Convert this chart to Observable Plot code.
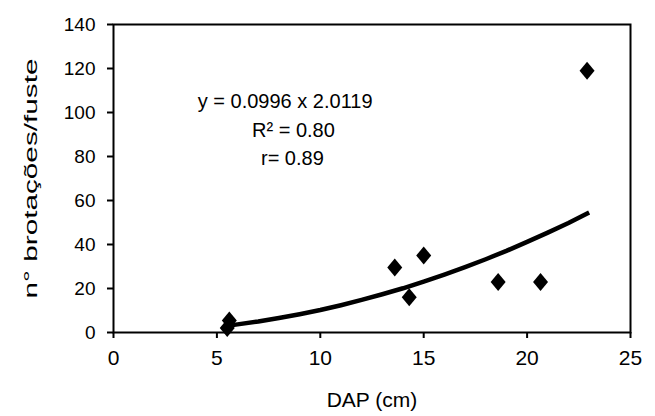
<!DOCTYPE html>
<html>
<head>
<meta charset="utf-8">
<script src="https://cdn.jsdelivr.net/npm/d3@7"></script>
<script src="https://cdn.jsdelivr.net/npm/@observablehq/plot@0.6"></script>
<style>
  html, body { margin: 0; padding: 0; background: #fff; }
  svg { display: block; }
</style>
</head>
<body>
<div id="chart"></div>
<script>
// Observed points (DAP in cm, number of sprouts per stem)
const dap = [5.5, 5.6, 13.6, 14.3, 15.0, 18.6, 20.65, 22.9];
const brotacoes = [2, 5.5, 29.5, 16, 35, 23, 23, 119];

// Fitted trend line
const trendX = [5.5, 6, 7, 8, 9, 10, 11, 12, 13, 14, 15, 16, 17, 18, 19, 20, 21, 22, 23];
const trendY = [3.1, 3.7, 5.0, 6.6, 8.3, 10.2, 12.4, 14.8, 17.4, 20.1, 23.1, 26.3, 29.7, 33.3, 37.1, 41.2, 45.4, 49.8, 54.5];

// Axis ticks
const xTicks = [0, 5, 10, 15, 20, 25];
const yTicks = [0, 20, 40, 60, 80, 100, 120, 140];

// Annotation text
const annotations = ["y = 0.0996 x 2.0119", "R² = 0.80", "r= 0.89"];

const points = dap.map((d, i) => ({x: d, y: brotacoes[i]}));
const trend = trendX.map((d, i) => ({x: d, y: trendY[i]}));

const diamond = {
  draw(context) {
    const w = 7.5, h = 9;
    context.moveTo(0, -h);
    context.lineTo(w, 0);
    context.lineTo(0, h);
    context.lineTo(-w, 0);
    context.closePath();
  }
};

const font = "'Liberation Sans', Arial, sans-serif";

const chart = Plot.plot({
  width: 655,
  height: 416,
  marginLeft: 113,
  marginRight: 25,
  marginTop: 24,
  marginBottom: 84,
  style: {fontFamily: font, fontSize: "21px", color: "#000", background: "#fff"},
  x: {domain: [0, 25]},
  y: {domain: [0, 140]},
  marks: [
    Plot.frame({stroke: "#000", strokeWidth: 2}),
    Plot.axisX({ticks: xTicks, tickSize: 6, tickPadding: 12, strokeWidth: 2, label: "DAP (cm)", labelAnchor: "center", labelArrow: "none", labelOffset: 74, fontSize: 21}),
    Plot.axisY({ticks: yTicks, tickSize: 6, tickPadding: 12, strokeWidth: 2, label: "n° brotações/fuste", labelAnchor: "center", labelArrow: "none", labelOffset: 90, fontSize: 19}),
    Plot.line(trend, {x: "x", y: "y", stroke: "#000", strokeWidth: 4.5, strokeLinejoin: "round", strokeLinecap: "butt"}),
    Plot.dot(points, {x: "x", y: "y", symbol: diamond, fill: "#000", stroke: "none"}),
    Plot.text([annotations[0]], {x: 8.3, y: 105, text: d => d, fontSize: 20, fill: "#000"}),
    Plot.text([annotations[1]], {x: 8.7, y: 92, text: d => d, fontSize: 20, fill: "#000"}),
    Plot.text([annotations[2]], {x: 8.65, y: 79, text: d => d, fontSize: 20, fill: "#000"})
  ]
});

// The original y-axis title is stretched along its direction
const yLabel = chart.querySelector('[aria-label="y-axis label"] text');
if (yLabel) {
  yLabel.setAttribute("textLength", "240");
  yLabel.setAttribute("lengthAdjust", "spacingAndGlyphs");
}

document.getElementById("chart").appendChild(chart);
</script>
</body>
</html>
